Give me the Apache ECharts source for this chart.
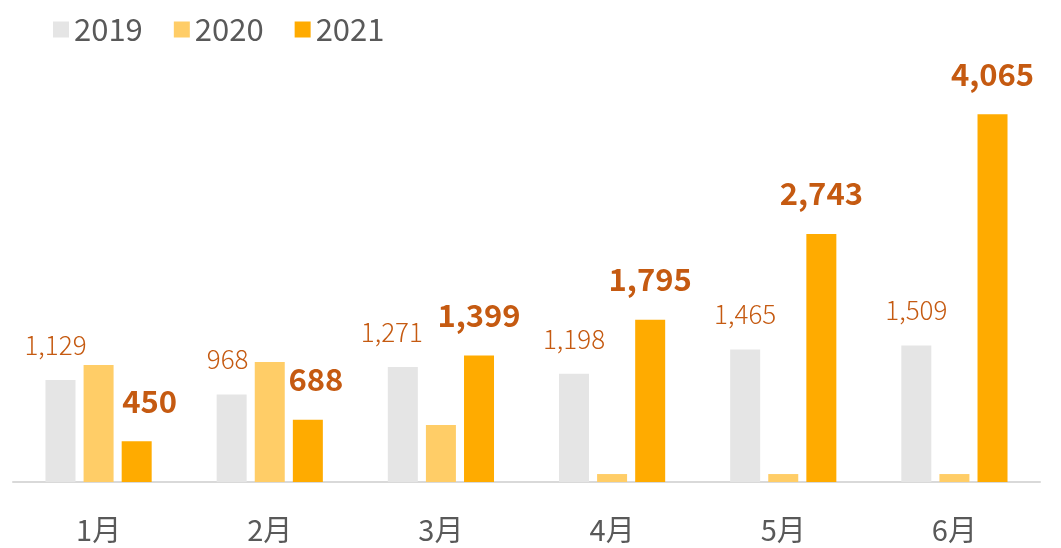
<!DOCTYPE html>
<html>
<head>
<meta charset="utf-8">
<script src="https://cdn.jsdelivr.net/npm/echarts@6/dist/echarts.min.js"></script>
<style>
    html, body { margin: 0; padding: 0; background: #fff; }
    #chart { width: 1061px; height: 548px; }
</style>
</head>
<body>
<div id="chart"></div>
<script>
    var months = ['1月', '2月', '3月', '4月', '5月', '6月'];
    var years = ['2019', '2020', '2021'];
    var sales2019 = [1129, 968, 1271, 1198, 1465, 1509];
    var sales2020 = [1293, 1326, 630, 88, 88, 88];
    var sales2021 = [450, 688, 1399, 1795, 2743, 4065];
    // small sideways nudges of the value labels, as in the original
    var shift2019 = [-5, -4, -11, 0, 0, 0];
    var shift2021 = [13, 8, 0, 0, 0, 0];

    var labelColor = '#c55a11';
    var font = '"Noto Sans CJK JP", "Noto Sans", sans-serif';

    function withShift(values, shifts) {
        return values.map(function (v, i) {
            return { value: v, label: { offset: [shifts[i], 0] } };
        });
    }

    var chart = echarts.init(document.getElementById('chart'));
    chart.setOption({
        animation: false,
        textStyle: { fontFamily: font },
        legend: {
            data: years,
            left: 48,
            top: 9,
            itemWidth: 16,
            itemHeight: 16,
            itemGap: 31,
            icon: 'rect',
            textStyle: { fontSize: 31, color: '#595959', fontFamily: font }
        },
        grid: { left: 13, right: 21, top: 75, bottom: 66 },
        xAxis: {
            type: 'category',
            data: months,
            axisLine: { lineStyle: { color: '#d9d9d9', width: 2 } },
            axisTick: { show: false },
            axisLabel: { fontSize: 29, color: '#595959', margin: 33, fontFamily: font }
        },
        yAxis: {
            type: 'value',
            min: 0,
            max: 4500,
            show: false,
            splitLine: { show: false }
        },
        series: [
            {
                name: '2019',
                type: 'bar',
                barWidth: 30,
                barGap: '27%',
                itemStyle: { color: '#e5e5e5' },
                label: {
                    show: true,
                    position: 'top',
                    distance: 22,
                    fontSize: 26,
                    fontWeight: 300,
                    color: labelColor,
                    fontFamily: font,
                    formatter: function (p) { return p.value.toLocaleString('en-US'); }
                },
                data: withShift(sales2019, shift2019)
            },
            {
                name: '2020',
                type: 'bar',
                barWidth: 30,
                barGap: '27%',
                itemStyle: { color: '#ffcd67' },
                data: sales2020
            },
            {
                name: '2021',
                type: 'bar',
                barWidth: 30,
                barGap: '27%',
                itemStyle: { color: '#ffab00' },
                label: {
                    show: true,
                    position: 'top',
                    distance: 25,
                    fontSize: 31,
                    fontWeight: 'bold',
                    color: labelColor,
                    fontFamily: font,
                    formatter: function (p) { return p.value.toLocaleString('en-US'); }
                },
                data: withShift(sales2021, shift2021)
            }
        ]
    });
</script>
</body>
</html>
